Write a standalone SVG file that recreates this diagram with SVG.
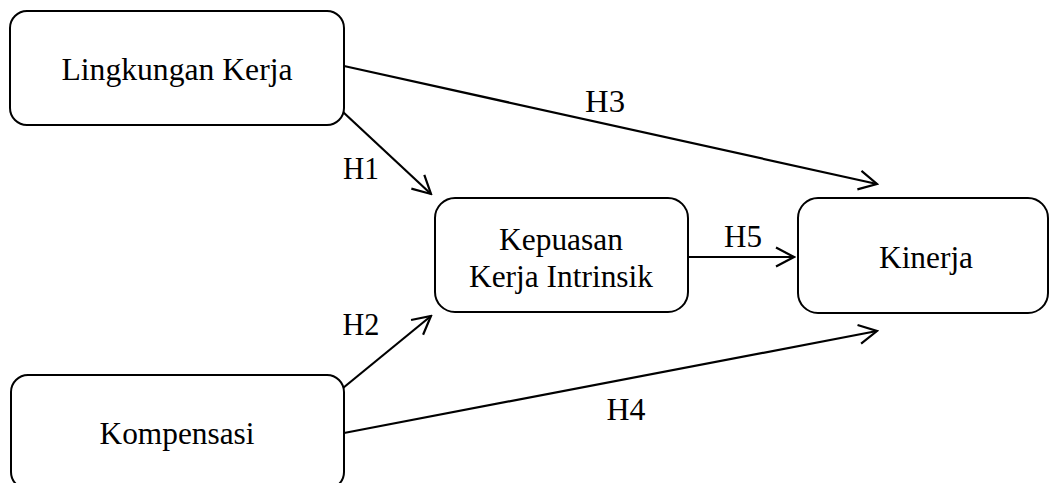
<svg xmlns="http://www.w3.org/2000/svg" width="1050" height="483" viewBox="0 0 1050 483">
  <style>
    .box { fill: #ffffff; stroke: #000000; stroke-width: 2; }
    .lbl { font-family: "Liberation Serif", "Times New Roman", serif; font-size: 32px; fill: #000000; text-anchor: middle; }
    .edge { stroke: #000000; stroke-width: 2.2; fill: none; marker-end: url(#arr); }
  </style>
  <defs>
    <marker id="arr" viewBox="0 0 22 22" refX="20" refY="11" markerWidth="22" markerHeight="22" markerUnits="userSpaceOnUse" orient="auto">
      <path d="M2,1.5 L20,11 L2,20.5" fill="none" stroke="#000000" stroke-width="2.2" stroke-linejoin="miter"/>
    </marker>
  </defs>
  <rect width="1050" height="483" fill="#ffffff"/>

  <g id="connectors">
    <line class="edge" x1="344" y1="66" x2="877" y2="184"/>
    <line class="edge" x1="343" y1="112" x2="431" y2="194"/>
    <line class="edge" x1="343" y1="388" x2="431" y2="316"/>
    <line class="edge" x1="344" y1="433" x2="877" y2="331"/>
    <line class="edge" x1="688" y1="257" x2="794" y2="257"/>
    <text class="lbl" x="605" y="112" textLength="40" lengthAdjust="spacingAndGlyphs">H3</text>
    <text class="lbl" x="361" y="179" textLength="36" lengthAdjust="spacingAndGlyphs">H1</text>
    <text class="lbl" x="361" y="335" textLength="37" lengthAdjust="spacingAndGlyphs">H2</text>
    <text class="lbl" x="626" y="420" textLength="39" lengthAdjust="spacingAndGlyphs">H4</text>
    <text class="lbl" x="743" y="247" textLength="38" lengthAdjust="spacingAndGlyphs">H5</text>
  </g>

  <g id="node-lingkungan">
    <rect class="box" x="10" y="11" width="334" height="114" rx="17" ry="17"/>
    <text class="lbl" x="177" y="80" textLength="231" lengthAdjust="spacingAndGlyphs">Lingkungan Kerja</text>
  </g>

  <g id="node-kepuasan">
    <rect class="box" x="435" y="198" width="253" height="114" rx="20" ry="20"/>
    <text class="lbl" x="561" y="250" textLength="124" lengthAdjust="spacingAndGlyphs">Kepuasan</text>
    <text class="lbl" x="561" y="287" textLength="184" lengthAdjust="spacingAndGlyphs">Kerja Intrinsik</text>
  </g>

  <g id="node-kinerja">
    <rect class="box" x="798" y="198" width="250" height="115" rx="20" ry="20"/>
    <text class="lbl" x="926" y="268" textLength="94" lengthAdjust="spacingAndGlyphs">Kinerja</text>
  </g>

  <g id="node-kompensasi">
    <rect class="box" x="11" y="375" width="333" height="114" rx="17" ry="17"/>
    <text class="lbl" x="177" y="444" textLength="155" lengthAdjust="spacingAndGlyphs">Kompensasi</text>
  </g>
</svg>
